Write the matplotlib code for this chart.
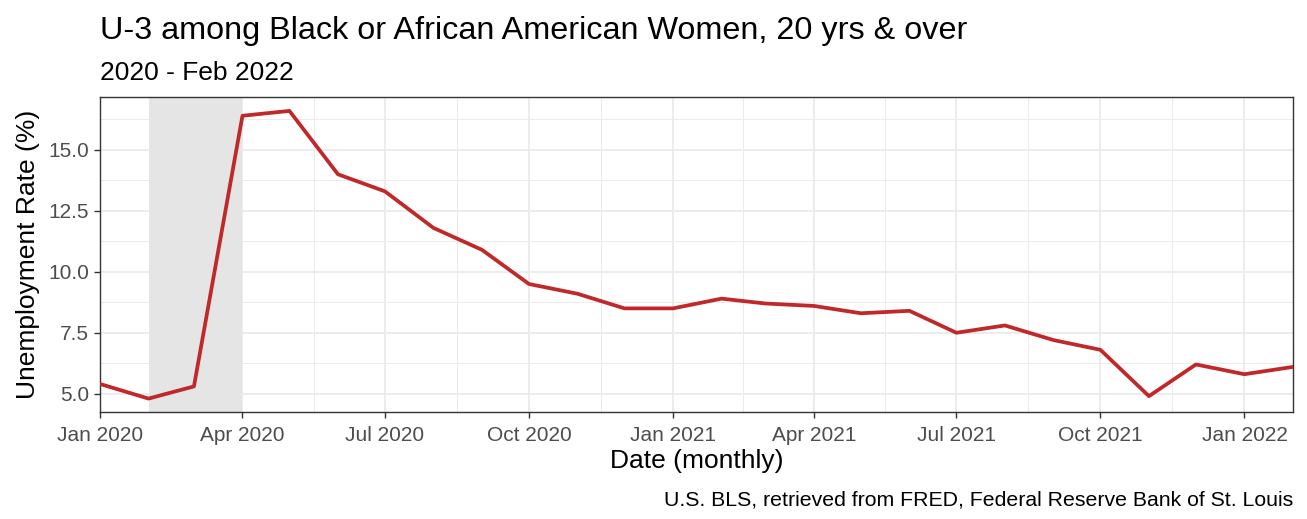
import matplotlib.pyplot as plt
import matplotlib.dates as mdates
import pandas as pd

plt.rcParams["font.family"] = ["Liberation Sans", "DejaVu Sans"]

# Monthly U-3 rate, Black or African American women 20+
months = pd.date_range("2020-01-01", "2022-02-01", freq="MS")
rate = [5.4, 4.8, 5.3, 16.4, 16.6, 14.0, 13.3, 11.8, 10.9, 9.5, 9.1, 8.5,
        8.5, 8.9, 8.7, 8.6, 8.3, 8.4, 7.5, 7.8, 7.2, 6.8, 4.9, 6.2,
        5.8, 6.1]
recession_start = pd.Timestamp("2020-02-01")
recession_end = pd.Timestamp("2020-04-01")
major_ticks = pd.date_range("2020-01-01", "2022-01-01", freq="3MS")
tick_labels = [d.strftime("%b %Y") for d in major_ticks]
y_ticks = [5.0, 7.5, 10.0, 12.5, 15.0]

fig = plt.figure(figsize=(13.07, 5.19), dpi=100)
ax = fig.add_axes([100 / 1307, 1 - 412 / 519, 1193 / 1307, 315 / 519])

ax.axvspan(recession_start, recession_end, color="#e5e5e5", lw=0, zorder=1)
ax.plot(months, rate, color="#c0282a", lw=2.7, zorder=3)

ax.set_xlim(months[0], months[-1])
ax.set_ylim(4.25, 17.17)

# grid: majors plus ggplot-style midpoint minors
ax.set_xticks(major_ticks)
ax.set_xticklabels(tick_labels)
minor_x = [major_ticks[i] + (major_ticks[i + 1] - major_ticks[i]) / 2
           for i in range(len(major_ticks) - 1)]
ax.set_xticks(minor_x, minor=True)
ax.set_yticks(y_ticks)
ax.set_yticklabels([f"{v:.1f}" for v in y_ticks])
ax.set_yticks([6.25, 8.75, 11.25, 13.75, 16.25], minor=True)

ax.grid(True, which="major", color="#ebebeb", lw=1.3, zorder=0)
ax.grid(True, which="minor", color="#ebebeb", lw=0.7, zorder=0)
ax.set_axisbelow(True)

ax.tick_params(which="major", length=4, width=1, color="#333333",
               labelsize=15, labelcolor="#4d4d4d", pad=4)
ax.tick_params(axis="x", which="major", pad=6)
ax.tick_params(which="minor", length=0)
for s in ax.spines.values():
    s.set_color("#333333")
    s.set_linewidth(1)

ax.set_xlabel("Date (monthly)", fontsize=19, labelpad=3)
ax.set_ylabel("Unemployment Rate (%)", fontsize=19, labelpad=6)

fig.text(100 / 1307, 1 - 39 / 519, "U-3 among Black or African American Women, 20 yrs & over",
         fontsize=23.3, ha="left", va="baseline")
fig.text(100 / 1307, 1 - 80 / 519, "2020 - Feb 2022", fontsize=19, ha="left", va="baseline")
fig.text(1293 / 1307, 1 - 505 / 519, "U.S. BLS, retrieved from FRED, Federal Reserve Bank of St. Louis",
         fontsize=15.3, ha="right", va="baseline")

fig.savefig("out.png", dpi=100)
